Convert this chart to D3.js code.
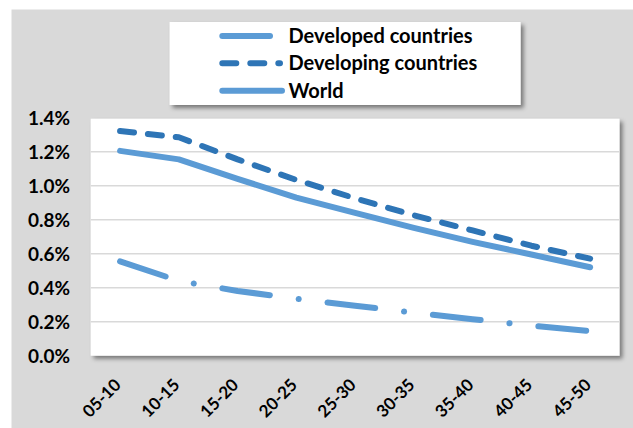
<!DOCTYPE html>
<html>
<head>
<meta charset="utf-8">
<script src="https://cdn.jsdelivr.net/npm/d3@7/dist/d3.min.js"></script>
<style>
  html, body { margin: 0; padding: 0; background: #ffffff; }
  svg { display: block; }
  text { font-family: Lato, "Open Sans", sans-serif; font-weight: 700; fill: #000; }
</style>
</head>
<body>
<svg id="chart" width="633" height="428"></svg>
<script>
// ---- data ----
const categories = ["05-10", "10-15", "15-20", "20-25", "25-30", "30-35", "35-40", "40-45", "45-50"];
const developed  = [0.555, 0.440, 0.381, 0.335, 0.294, 0.253, 0.215, 0.177, 0.145];
const developing = [1.322, 1.285, 1.155, 1.034, 0.926, 0.826, 0.737, 0.647, 0.571];
const world      = [1.205, 1.155, 1.040, 0.930, 0.840, 0.752, 0.670, 0.595, 0.520];
const yTicks     = [0, 0.2, 0.4, 0.6, 0.8, 1.0, 1.2, 1.4];
const yTickLabels = ["0.0%", "0.2%", "0.4%", "0.6%", "0.8%", "1.0%", "1.2%", "1.4%"];
const seriesNames = ["Developed countries", "Developing countries", "World"];

const seriesList = [
  { name: seriesNames[0], values: developed,  color: "#5b9bd5", dash: "48 29 0.1 29" },
  { name: seriesNames[1], values: developing, color: "#2e75b6", dash: "14 14" },
  { name: seriesNames[2], values: world,      color: "#5b9bd5", dash: null }
];

const svg = d3.select("#chart");
const W = 633, H = 428;

// shadow filter
const defs = svg.append("defs");
const f = defs.append("filter").attr("id", "shadow")
  .attr("x", "-5%").attr("y", "-5%").attr("width", "115%").attr("height", "120%");
f.append("feDropShadow").attr("dx", 3).attr("dy", 3).attr("stdDeviation", 2)
  .attr("flood-color", "#000").attr("flood-opacity", 0.45);

// chart background
svg.append("rect").attr("x", 11.5).attr("y", 9.5).attr("width", W - 11.5).attr("height", H - 9.5)
  .attr("fill", "#d9d9d9");

// plot area
const plot = { left: 90.7, right: 619.5, top: 117.7, bottom: 355.7 };
const x = d3.scalePoint().domain(categories).range([plot.left, plot.right]).padding(0.5);
const y = d3.scaleLinear().domain([0, 1.4]).range([plot.bottom, plot.top]);

svg.append("rect")
  .attr("x", plot.left).attr("y", plot.top + 1)
  .attr("width", plot.right - plot.left).attr("height", plot.bottom - plot.top - 1)
  .attr("fill", "#ffffff").attr("filter", "url(#shadow)");

// gridlines
svg.append("g").selectAll("line")
  .data(yTicks.filter(t => t > 0 && t < 1.4))
  .join("line")
  .attr("x1", plot.left).attr("x2", plot.right)
  .attr("y1", d => y(d)).attr("y2", d => y(d))
  .attr("stroke", "#d9d9d9").attr("stroke-width", 1.5);

// y axis labels
const yAxis = d3.axisLeft(y).tickValues(yTicks)
  .tickFormat((d, i) => yTickLabels[i]).tickSize(0).tickPadding(0);
const yg = svg.append("g").attr("transform", `translate(70,0)`).call(yAxis);
yg.select(".domain").remove();
yg.selectAll("text").attr("font-size", 19).attr("font-family", "Lato").attr("font-weight", 700)
  .attr("fill", "#000").attr("dy", "0.35em");

// x axis labels
const xAxis = d3.axisBottom(x).tickSize(0).tickPadding(0);
const xg = svg.append("g").call(xAxis);
xg.select(".domain").remove();
xg.selectAll(".tick").attr("transform", d => `translate(${x(d) + 2},386)`);
xg.selectAll("text")
  .attr("font-size", 17).attr("font-family", "Lato").attr("font-weight", 700).attr("fill", "#000")
  .attr("y", 0).attr("dy", 0)
  .attr("text-anchor", "end")
  .attr("transform", "rotate(-45)");

// lines
const line = d3.line().x((d, i) => x(categories[i])).y(d => y(d));
svg.append("g").selectAll("path")
  .data(seriesList)
  .join("path")
  .attr("d", d => line(d.values))
  .attr("fill", "none")
  .attr("stroke", d => d.color)
  .attr("stroke-width", 6)
  .attr("stroke-linecap", "round")
  .attr("stroke-linejoin", "round")
  .attr("stroke-dasharray", d => d.dash);

// legend
const legend = svg.append("g");
legend.append("rect").attr("x", 169.6).attr("y", 22).attr("width", 351).attr("height", 83)
  .attr("fill", "#ffffff").attr("filter", "url(#shadow)");
const legRows = [36, 63.3, 90.7];
const legEnds = [270, 280, 282];
const legDash = ["48 29 0.1 29", "14 14", null];
seriesList.forEach((s, i) => {
  legend.append("line")
    .attr("x1", 222.3).attr("x2", legEnds[i])
    .attr("y1", legRows[i]).attr("y2", legRows[i])
    .attr("stroke", s.color).attr("stroke-width", 6).attr("stroke-linecap", "round")
    .attr("stroke-dasharray", legDash[i]);
  legend.append("text")
    .attr("x", 288.5).attr("y", legRows[i]).attr("dy", "0.35em")
    .attr("font-size", 20)
    .text(s.name);
});
</script>
</body>
</html>
